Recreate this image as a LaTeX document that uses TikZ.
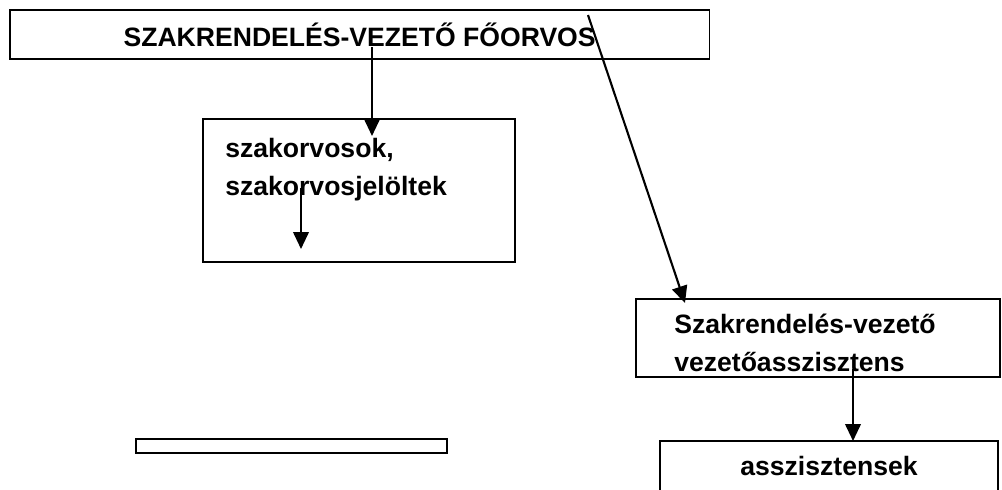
\documentclass[tikz,border=0pt]{standalone}
\usepackage{fontspec}
\setmainfont{Liberation Sans}
\usetikzlibrary{arrows.meta}

\begin{document}
\begin{tikzpicture}[x=0.025cm,y=-0.025cm,
  box/.style={draw,line width=0.9pt,inner sep=0pt,outer sep=0pt,anchor=north west},
  lbl/.style={font=\fontsize{18.9}{26.8}\selectfont\bfseries,inner sep=0pt,align=left},
  arr/.style={line width=1.5pt,-{Triangle[length=12pt,width=11pt]}}]
\clip (0,0) rectangle (1002,489);
\fill[white] (0,0) rectangle (1002,489);

% boxes
\node[box,lbl,align=center,minimum width=17.475cm,minimum height=1.225cm] (chief) at (10,10) {SZAKRENDELÉS-VEZETŐ FŐORVOS};
\node[box,minimum width=7.8cm,minimum height=3.575cm] (spec) at (203,119) {};
\node[box,minimum width=9.1cm,minimum height=1.95cm] (head) at (636,299) {};
\node[box,minimum width=8.45cm,minimum height=1.8cm] (assist) at (660,441) {};
\node[box,minimum width=7.775cm,minimum height=0.35cm] (empty) at (136,439) {};

% texts
\node[lbl,anchor=north west] (spectxt) at (225,138) {szakorvosok,\\szakorvosjelöltek};
\node[lbl,anchor=north west] (headtxt) at (674,314) {Szakrendelés-vezető\\vezetőasszisztens};
\node[lbl,anchor=base] (assisttxt) at (829,475) {asszisztensek};

% arrows
\coordinate (a1s) at (372,47);  \coordinate (a1e) at (372,136);
\coordinate (a2s) at (588,15);  \coordinate (a2e) at (685,303);
\coordinate (a3s) at (301,188); \coordinate (a3e) at (301,249);
\coordinate (a4s) at (853,369); \coordinate (a4e) at (853,441);
\draw[arr] (a1s) -- (a1e);
\draw[arr] (a2s) -- (a2e);
\draw[arr] (a3s) -- (a3e);
\draw[arr] (a4s) -- (a4e);

\end{tikzpicture}
\end{document}
